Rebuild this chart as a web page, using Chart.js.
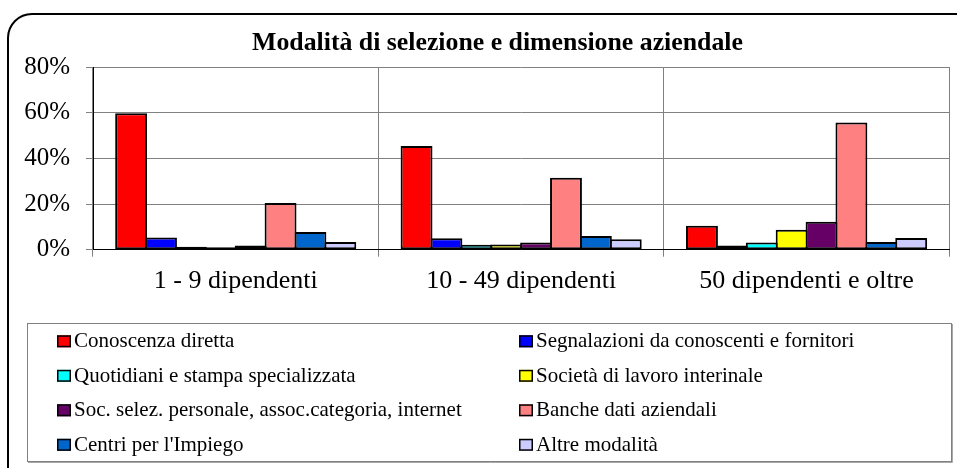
<!DOCTYPE html>
<html>
<head>
<meta charset="utf-8">
<script src="https://cdn.jsdelivr.net/npm/chart.js@4.4.1/dist/chart.umd.min.js"></script>
<style>
  html, body { margin: 0; padding: 0; background: #fff; }
  #wrap { position: relative; width: 957px; height: 468px; }
</style>
</head>
<body>
<div id="wrap"><canvas id="c" width="957" height="468"></canvas></div>
<script>
const chartTitle = "Modalità di selezione e dimensione aziendale";
const categories = ["1 - 9 dipendenti", "10 - 49 dipendenti", "50 dipendenti e oltre"];
const seriesNames = [
  "Conoscenza diretta",
  "Segnalazioni da conoscenti e fornitori",
  "Quotidiani e stampa specializzata",
  "Società di lavoro interinale",
  "Soc. selez. personale, assoc.categoria, internet",
  "Banche dati aziendali",
  "Centri per l'Impiego",
  "Altre modalità"
];
const seriesColors = ["#FF0000", "#0000FF", "#00FFFF", "#FFFF00", "#660066", "#FF8080", "#0066CC", "#CCCCFF"];
const conoscenzaDiretta = [59.7, 45.4, 10.5];
const segnalazioni = [5.3, 5.0, 1.8];
const quotidiani = [1.3, 2.2, 3.1];
const societaInterinale = [1.1, 2.3, 8.7];
const socSelez = [1.8, 3.1, 12.2];
const bancheDati = [20.4, 31.5, 55.7];
const centriImpiego = [7.8, 6.0, 3.4];
const altreModalita = [3.4, 4.6, 5.1];
const seriesValues = [conoscenzaDiretta, segnalazioni, quotidiani, societaInterinale, socSelez, bancheDati, centriImpiego, altreModalita];
const yTicks = [0, 20, 40, 60, 80];

const FONT = "'Liberation Serif', 'Times New Roman', serif";

const frameAndLegend = {
  id: 'frameAndLegend',
  beforeDraw(chart) {
    const ctx = chart.ctx;
    ctx.save();
    ctx.strokeStyle = '#000';
    ctx.lineWidth = 2;
    const x = 8, y = 14, w = 975, h = 490, r = 24;
    ctx.beginPath();
    ctx.moveTo(x + r, y);
    ctx.lineTo(x + w - r, y);
    ctx.arcTo(x + w, y, x + w, y + r, r);
    ctx.lineTo(x + w, y + h - r);
    ctx.arcTo(x + w, y + h, x + w - r, y + h, r);
    ctx.lineTo(x + r, y + h);
    ctx.arcTo(x, y + h, x, y + h - r, r);
    ctx.lineTo(x, y + r);
    ctx.arcTo(x, y, x + r, y, r);
    ctx.closePath();
    ctx.stroke();
    ctx.restore();
  },
  afterDraw(chart) {
    const ctx = chart.ctx;
    ctx.save();
    ctx.fillStyle = '#000';
    ctx.font = "bold 25.8px " + FONT;
    ctx.textAlign = 'center';
    ctx.textBaseline = 'alphabetic';
    ctx.fillText(chartTitle, 497.5, 49.5);

    ctx.strokeStyle = '#808080';
    ctx.lineWidth = 1;
    ctx.strokeRect(27.5, 323.5, 924, 138);
    ctx.strokeStyle = '#a8a8a8';
    ctx.beginPath();
    ctx.moveTo(952.5, 324); ctx.lineTo(952.5, 462.5); ctx.lineTo(28, 462.5);
    ctx.stroke();

    const colX = [57, 519];
    const baselines = [347.3, 381.8, 416.3, 450.8];
    ctx.font = "21px " + FONT;
    ctx.textAlign = 'left';
    ctx.textBaseline = 'alphabetic';
    chart.data.datasets.forEach((ds, i) => {
      const col = i % 2, row = Math.floor(i / 2);
      const mx = colX[col], by = baselines[row];
      ctx.fillStyle = ds.backgroundColor;
      ctx.fillRect(mx, by - 12, 14, 12);
      ctx.strokeStyle = '#000';
      ctx.lineWidth = 1.5;
      ctx.strokeRect(mx + 0.75, by - 11.25, 12.5, 10.5);
      ctx.fillStyle = '#000';
      ctx.fillText(ds.label, mx + 17, by);
    });
    ctx.restore();
  }
};

new Chart(document.getElementById('c'), {
  type: 'bar',
  data: {
    labels: categories,
    datasets: seriesNames.map((name, i) => ({
      label: name,
      data: seriesValues[i],
      backgroundColor: seriesColors[i],
      borderColor: '#000',
      borderWidth: 2,
      borderSkipped: false,
      categoryPercentage: 0.8377,
      barPercentage: 1.067
    }))
  },
  options: {
    responsive: false,
    animation: false,
    devicePixelRatio: 1,
    layout: { padding: { top: 67, right: 7.7, bottom: 0, left: 0 } },
    plugins: {
      legend: { display: false },
      title: { display: false },
      tooltip: { enabled: false }
    },
    scales: {
      x: {
        grid: { color: '#808080', lineWidth: 1, offset: true, tickLength: 7, drawTicks: true },
        border: { color: '#000', width: 1 },
        ticks: { color: '#000', font: { family: FONT, size: 26 }, padding: 9, maxRotation: 0 },
        afterFit(scale) { scale.height = 468 - 249.7; }
      },
      y: {
        min: 0, max: 80,
        afterBuildTicks(scale) { scale.ticks = yTicks.map(v => ({ value: v })); },
        grid: { color: '#808080', lineWidth: 1, tickLength: 7 },
        border: { color: '#000', width: 1 },
        ticks: { color: '#000', font: { family: FONT, size: 25 }, padding: 16,
                 callback: v => v + '%' },
        afterFit(scale) { scale.width = 93; }
      }
    }
  },
  plugins: [frameAndLegend]
});
</script>
</body>
</html>
